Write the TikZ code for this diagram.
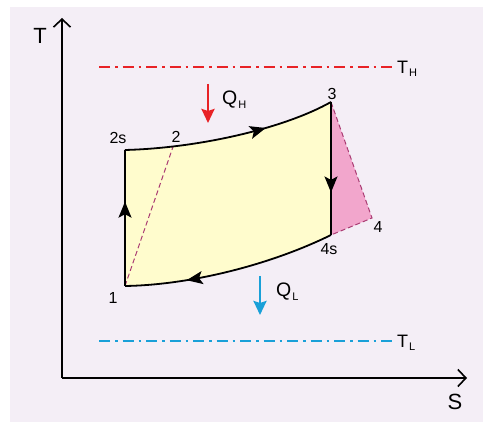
\documentclass[tikz,border=0pt]{standalone}
\usepackage{fontspec}
\setmainfont{Liberation Sans}
\usetikzlibrary{arrows.meta,decorations.markings}
\definecolor{bgc}{RGB}{244,238,246}
\definecolor{cyc}{RGB}{255,252,205}
\definecolor{pinkf}{RGB}{242,166,204}
\definecolor{dashc}{RGB}{170,60,115}
\definecolor{hotc}{RGB}{232,34,38}
\definecolor{coldc}{RGB}{25,160,216}
\tikzset{
  axis/.style={line width=1.6pt,-{Straight Barb[length=8pt,width=17pt,line width=1.6pt]}},
  cycline/.style={line width=1.8pt,black},
  dashln/.style={line width=1pt,dashc,dash pattern=on 5pt off 3pt},
  resline/.style={line width=2pt,dash pattern=on 11pt off 5pt on 2.5pt off 5pt},
  heat/.style={line width=2.4pt,-{Stealth[length=14pt,width=13pt,inset=2pt]}},
  lbl/.style={inner sep=0pt,font=\fontsize{16}{16}\selectfont},
  big/.style={inner sep=0pt,font=\fontsize{22}{22}\selectfont},
  mid/.style={inner sep=0pt,font=\fontsize{19.5}{19.5}\selectfont,anchor=base west},
  midarrow/.style={postaction={decorate},decoration={markings,mark=at position #1 with {\arrow{Stealth[length=16pt,width=13pt,inset=3.5pt]}}}}
}
\newcommand{\subtx}[1]{\hspace{1pt}\raisebox{-3.5pt}{\fontsize{11}{11}\selectfont #1}}
\begin{document}
\begin{tikzpicture}[x=1pt,y=-1pt]
\useasboundingbox (0,0) rectangle (483,422);
\fill[white] (0,0) rectangle (483,422);
\fill[bgc] (10,7) rectangle (483,422);
% points
\coordinate (p1) at (125,286);
\coordinate (p2s) at (125,150);
\coordinate (p3) at (331,102);
\coordinate (p4s) at (331,235);
\coordinate (p4) at (372,218);
\coordinate (o) at (62,378);
\coordinate (ty) at (62,18);
\coordinate (sx) at (467,378);
% fills
\fill[cyc] (p1) -- (p2s) .. controls (200,148) and (285,128) .. (p3) -- (p4s) .. controls (270,265) and (190,285) .. (p1) -- cycle;
\fill[pinkf] (p3) -- (p4) -- (p4s) -- cycle;
% point 2 on top curve
\path (p2s) .. controls (200,148) and (285,128) .. coordinate[pos=0.21] (p2) (p3);
% dashed real processes
\draw[dashln] (p1) -- (p2);
\draw[dashln] (p3) -- (p4) -- (p4s);
% cycle
\draw[cycline,midarrow=0.62] (p1) -- (p2s);
\draw[cycline,midarrow=0.67] (p2s) .. controls (200,148) and (285,128) .. (p3);
\draw[cycline,midarrow=0.68] (p3) -- (p4s);
\draw[cycline,midarrow=0.71] (p4s) .. controls (270,265) and (190,285) .. (p1);
% axes
\draw[axis] (o) -- (ty);
\draw[axis] (o) -- (sx);
\node[big] (tlab) at (40,36) {T};
\node[big] (slab) at (455,402) {S};
% reservoirs
\coordinate (th1) at (99,67);
\coordinate (th2) at (396,67);
\coordinate (tl1) at (99,341);
\coordinate (tl2) at (396,341);
\draw[resline,hotc] (th1) -- (th2);
\draw[resline,coldc] (tl1) -- (tl2);
\node[mid,font=\fontsize{18}{18}\selectfont] (thlab) at (397,73.5) {T\subtx{H}};
\node[mid,font=\fontsize{18}{18}\selectfont] (tllab) at (397,347.5) {T\subtx{L}};
% heat arrows
\coordinate (qh1) at (208,84);
\coordinate (qh2) at (208,123);
\coordinate (ql1) at (260,276);
\coordinate (ql2) at (260,315);
\draw[heat,hotc] (qh1) -- (qh2);
\draw[heat,coldc] (ql1) -- (ql2);
\node[mid] (qhlab) at (222,105) {Q\subtx{H}};
\node[mid] (qllab) at (276,297) {Q\subtx{L}};
% state labels
\node[lbl] (l1) at (113,298) {1};
\node[lbl] (l2s) at (118,138) {2s};
\node[lbl] (l2) at (176,137) {2};
\node[lbl] (l3) at (332,94) {3};
\node[lbl] (l4s) at (329,249) {4s};
\node[lbl] (l4) at (378,227) {4};
\end{tikzpicture}
\end{document}
